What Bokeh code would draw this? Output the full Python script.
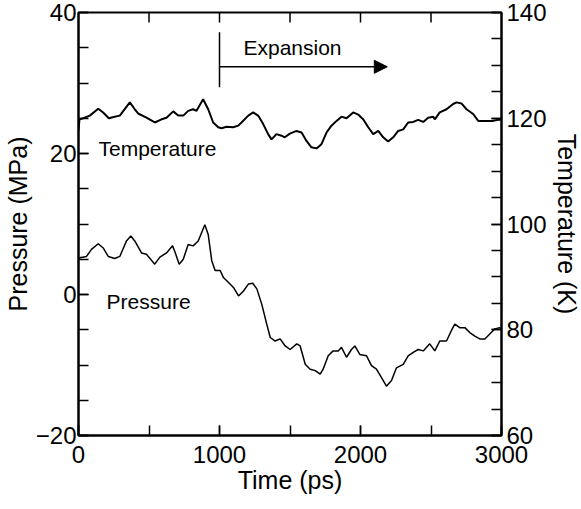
import math
from bokeh.plotting import figure
from bokeh.models import (Range1d, LinearAxis, SingleIntervalTicker, Arrow, NormalHead, Label)
from bokeh.embed import file_html
from bokeh.resources import INLINE

FONT = "Liberation Sans"

# Temperature (K), right axis
temp_time = [0, 7, 33, 80, 140, 175, 215, 257, 293, 364, 399, 423, 482, 541, 589, 624, 672, 707,
             743, 778, 813, 837, 884, 920, 955, 991, 1014, 1050, 1097, 1133, 1156, 1204, 1239,
             1274, 1310, 1345, 1369, 1404, 1440, 1463, 1499, 1546, 1582, 1617, 1652, 1688, 1723,
             1759, 1794, 1830, 1865, 1901, 1948, 1984, 2007, 2019, 2055, 2090, 2126, 2161, 2196,
             2232, 2267, 2303, 2338, 2374, 2409, 2445, 2480, 2516, 2527, 2562, 2610, 2657, 2681,
             2716, 2752, 2799, 2835, 2870, 2906, 2941, 2977, 3000]
temp_vals = [117.7, 119.8, 120.0, 120.5, 121.8, 121.1, 120.0, 120.3, 120.5, 123.0, 121.7, 120.9,
             120.1, 119.2, 119.8, 120.1, 121.3, 120.5, 120.5, 121.4, 121.7, 121.4, 123.6, 121.7,
             119.2, 118.3, 118.1, 118.4, 118.3, 118.6, 119.2, 120.5, 121.1, 120.5, 118.9, 117.0,
             116.0, 117.0, 116.7, 116.4, 117.1, 117.6, 117.3, 115.7, 114.5, 114.3, 115.1, 117.3,
             118.6, 119.5, 120.3, 120.0, 121.1, 120.7, 120.1, 119.8, 118.3, 117.0, 117.6, 116.4,
             115.6, 116.4, 117.6, 117.9, 119.2, 119.3, 119.7, 119.3, 120.1, 120.3, 119.8, 121.1,
             121.7, 122.7, 123.0, 122.8, 121.7, 120.8, 119.5, 119.5, 119.5, 119.5, 119.7, 119.7]

# Pressure (MPa), left axis
pres_time = [0, 9, 57, 92, 140, 175, 211, 257, 293, 340, 371, 399, 447, 482, 541, 577, 624, 667,
             683, 714, 743, 778, 813, 849, 896, 920, 945, 969, 1005, 1028, 1064, 1099, 1135, 1170,
             1206, 1236, 1265, 1300, 1335, 1360, 1395, 1430, 1466, 1501, 1548, 1572, 1608, 1643,
             1679, 1714, 1735, 1771, 1806, 1842, 1865, 1901, 1936, 1960, 1995, 2043, 2078, 2113,
             2149, 2184, 2220, 2255, 2303, 2338, 2374, 2409, 2445, 2491, 2527, 2562, 2610, 2645,
             2669, 2704, 2740, 2775, 2811, 2846, 2882, 2917, 2952, 2988, 3000]
pres_vals = [5.0, 5.2, 5.4, 6.4, 7.2, 6.6, 5.4, 5.1, 5.4, 7.6, 8.3, 7.6, 5.9, 5.7, 4.3, 5.3, 5.9, 6.9,
             6.1, 4.3, 5.0, 7.1, 6.9, 7.6, 9.9, 8.5, 4.8, 3.4, 3.4, 2.4, 1.7, 1.0, -0.2, 0.5,
             1.5, 1.6, 0.8, -1.4, -4.2, -6.1, -6.6, -6.3, -7.3, -7.8, -7.0, -7.3, -9.9, -10.6,
             -10.8, -11.3, -10.6, -8.7, -8.0, -8.0, -7.5, -8.9, -7.8, -7.3, -8.5, -8.7, -10.1, -10.6,
             -11.8, -13.0, -12.2, -10.4, -9.9, -8.7, -8.2, -7.8, -8.0, -7.0, -8.0, -6.6, -6.6, -5.1,
             -4.2, -4.7, -4.7, -5.4, -5.9, -6.3, -6.3, -5.6, -4.9, -4.7, -4.9]

# Top-edge tick positions (ps)
top_ticks = [500, 1000, 1500, 2000, 2500]

# Annotations (data coordinates, pressure axis)
label_texts = ["Temperature", "Pressure", "Expansion"]
label_x = [142, 199, 1170]
label_y = [20.7, -1.0, 35.0]
exp_start = 1000
exp_end = 2190
exp_level = 32.3
exp_bar = [29.4, 37.2]

p = figure(frame_width=423, frame_height=423, output_backend="svg", toolbar_location=None,
           x_range=Range1d(0, 3000), y_range=Range1d(-20, 40),
           min_border_left=72, min_border_top=12, min_border_right=76, min_border_bottom=60,
           x_axis_location=None, y_axis_location=None)
p.extra_y_ranges = {"temp": Range1d(60, 140)}
p.grid.visible = False
p.outline_line_color = "black"
p.outline_line_width = 2
p.background_fill_color = "white"
p.border_fill_color = "white"


def style(ax):
    ax.axis_line_width = 2
    ax.axis_line_color = "black"
    ax.major_tick_in = 10
    ax.major_tick_out = 0
    ax.minor_tick_in = 10
    ax.minor_tick_out = 0
    ax.major_tick_line_width = 1.5
    ax.minor_tick_line_width = 1.5
    ax.major_label_text_font = FONT
    ax.major_label_text_font_size = "24px"
    ax.major_label_text_color = "black"
    ax.axis_label_text_font = FONT
    ax.axis_label_text_font_size = "25px"
    ax.axis_label_text_font_style = "normal"
    ax.axis_label_text_color = "black"


bottom = LinearAxis(ticker=SingleIntervalTicker(interval=1000, num_minor_ticks=2),
                    axis_label="Time (ps)")
style(bottom)
bottom.major_label_standoff = 10
bottom.axis_label_standoff = 0
p.add_layout(bottom, "below")

left = LinearAxis(ticker=SingleIntervalTicker(interval=20, num_minor_ticks=4),
                  axis_label="Pressure (MPa)")
style(left)
left.major_label_overrides = {-20: "\u221220"}
left.major_label_standoff = 2
left.axis_label_standoff = 1
p.add_layout(left, "left")

right = LinearAxis(y_range_name="temp", ticker=SingleIntervalTicker(interval=20, num_minor_ticks=4),
                   axis_label="Temperature (K)")
style(right)
right.major_label_standoff = 5
right.axis_label_standoff = 3
p.add_layout(right, "right")

# inward ticks along the top edge
p.ray(x=top_ticks, y=[40] * len(top_ticks), length=10, length_units="screen",
      angle=-math.pi / 2, line_color="black", line_width=1.5)

p.line(temp_time, temp_vals, y_range_name="temp", line_color="black", line_width=2)
p.line(pres_time, pres_vals, line_color="black", line_width=1.5)

for tx, xx, yy in zip(label_texts, label_x, label_y):
    p.add_layout(Label(x=xx, y=yy, text=tx, text_font=FONT, text_font_size="21px",
                       text_baseline="middle", text_align="left", text_color="black"))

p.segment(x0=[exp_start], y0=[exp_bar[0]], x1=[exp_start], y1=[exp_bar[1]],
          line_color="black", line_width=1.5)
p.add_layout(Arrow(x_start=exp_start, y_start=exp_level, x_end=exp_end, y_end=exp_level,
                   line_color="black", line_width=1.5,
                   end=NormalHead(size=13, fill_color="black", line_color="black")))

open("out.html", "w").write(file_html(p, INLINE))
